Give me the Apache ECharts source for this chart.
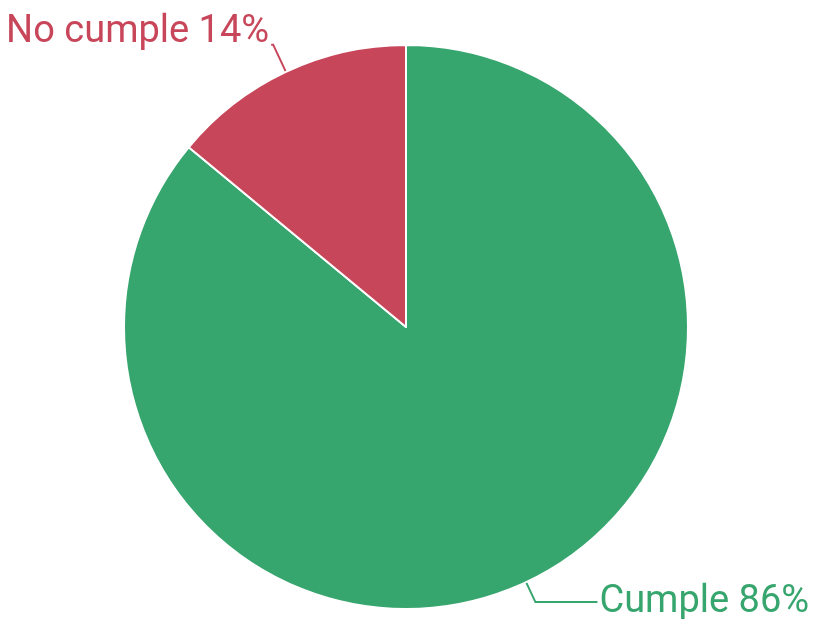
<!DOCTYPE html>
<html>
<head>
<meta charset="utf-8">
<script src="https://cdn.jsdelivr.net/npm/echarts@6/dist/echarts.min.js"></script>
<style>html,body{margin:0;padding:0;background:#fff}#c{width:813px;height:619px}</style>
</head>
<body>
<div id="c"></div>
<script>
const categories = ['Cumple', 'No cumple'];
const values = [86, 14];
const colors = ['#37a56e', '#c84659'];

const chart = echarts.init(document.getElementById('c'), null, {renderer: 'canvas'});
chart.setOption({
  animation: false,
  series: [{
    type: 'pie',
    center: [406, 327],
    radius: 282,
    startAngle: 90,
    clockwise: true,
    data: categories.map((n, i) => ({
      name: n, value: values[i],
      itemStyle: {color: colors[i]},
      label: {color: colors[i]},
      labelLine: i === 0 ? {length: 22, length2: 62} : {length: 30, length2: 2}
    })),
    itemStyle: {borderColor: '#fff', borderWidth: 2},
    label: {
      show: true,
      position: 'outside',
      formatter: p => p.name + ' ' + p.value + '%',
      fontFamily: 'Roboto',
      fontSize: 38,
      overflow: 'none',
      edgeDistance: 0,
      distanceToLabelLine: 2
    },
    labelLayout: p => p.dataIndex === 1 ? {dy: -12} : {},
    labelLine: {show: true, lineStyle: {width: 2}},
    emphasis: {disabled: true}
  }]
});
</script>
</body>
</html>
